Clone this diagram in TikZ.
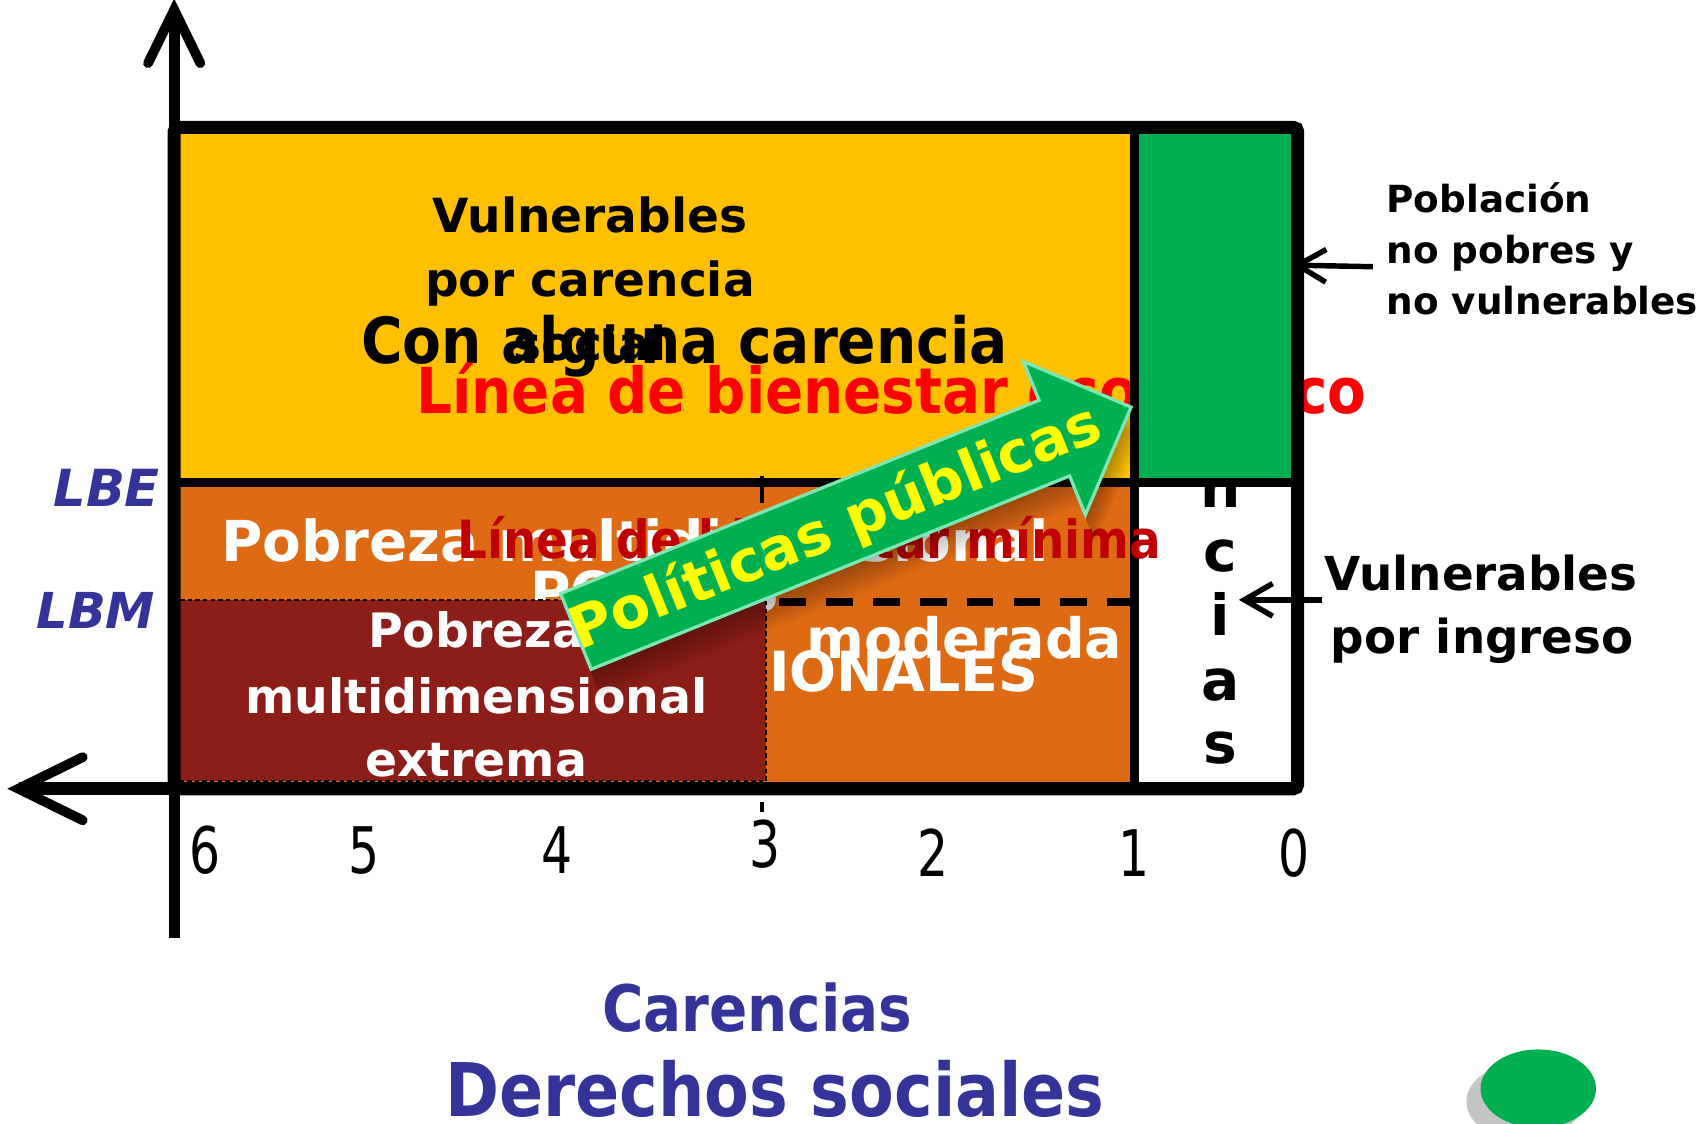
\documentclass[tikz,border=0pt]{standalone}
\usepackage{fontspec}
\setmainfont{DejaVu Sans}
\newfontfamily\verd{DejaVu Sans}
\newfontfamily\tahA[FakeStretch=0.89]{DejaVu Sans}
\newfontfamily\tahB[FakeStretch=0.88]{DejaVu Sans}
\newfontfamily\tahD[FakeStretch=0.76]{DejaVu Sans}
\usetikzlibrary{arrows.meta}
\definecolor{cyellow}{HTML}{FFC000}
\definecolor{cgreen}{HTML}{00B050}
\definecolor{corange}{HTML}{DF6A14}
\definecolor{cdark}{HTML}{8C1D18}
\definecolor{cblue}{HTML}{333399}
\definecolor{cred}{HTML}{FF0000}
\definecolor{cdred}{HTML}{C00000}
\definecolor{cmint}{HTML}{7CE6B4}
\definecolor{cyel}{HTML}{FFFF00}
\newcommand\fsz[1]{\fontsize{#1}{#1}\selectfont}
\begin{document}
\begin{tikzpicture}[x=0.5pt,y=-0.5pt,
  txt/.style={inner sep=0pt, outer sep=0pt, anchor=base},
  vb/.style={font=\verd\bfseries\fsz{#1}},
  ta/.style={font=\tahA\bfseries\fsz{#1}},
  divider/.style={line width=4.25pt},
  conn/.style={line width=2.5pt, -{Straight Barb[length=13pt,width=15pt]}},
  axisbarb/.style={line width=4.5pt, line cap=round, line join=miter},
  arrowpath/.style={insert path={(0,-37.5) -- (474,-37.5) -- (474,-76) -- (550,0) -- (474,76) -- (474,37.5) -- (0,37.5) -- cycle}},
]
\useasboundingbox (0,0) rectangle (1568,1032);
\fill[white] (0,0) rectangle (1568,1032);

% named corners
\coordinate (tl) at (160,117);
\coordinate (tr) at (1192,117);
\coordinate (bl) at (160,724.5);
\coordinate (br) at (1192,724.5);
\coordinate (mtop) at (1042,117);
\coordinate (mbot) at (1042,724.5);
\coordinate (hl) at (160,443);
\coordinate (hr) at (1192,443);

% regions
\fill[cyellow] (tl) rectangle (1042,443);
\fill[corange] (hl) rectangle (mbot);
\fill[white] (1042,443) rectangle (br);

% texts in the yellow region
\node[txt, vb=21.6] (vc1) at (542,213.5) {Vulnerables};
\node[txt, vb=21.6] (vc2) at (542,272.4) {por carencia};
\node[txt, vb=21.6] (vc3) at (542,331.5) {social};
\node[txt, ta=29.2] (cac) at (628.8,333.6) {Con alguna carencia};
\node[txt, ta=29.05, text=cred] (lbe) at (819,379.5) {Línea de bienestar económico};

% vertical word in the white column
\foreach \ch/\yy [count=\k] in {C/231,a/290,r/349,e/408,n/466,c/525,i/584,a/643,s/701}
  \node[txt, vb=26] (cv\k) at (1120.8,\yy) {\ch};

\fill[cgreen] (mtop) rectangle (hr);

% texts in the orange region
\node[txt, vb=25.9, text=white] (pmd) at (583.5,516) {Pobreza multidimensional};
\node[txt, vb=25.4, text=white, anchor=base west] (pob1) at (487,562) {POBRES};
\node[txt, vb=25.4, text=white, anchor=base east] (pob2) at (954,635.5) {MULTIDIMENSIONALES};
\node[txt, vb=25.5, text=white] (mod) at (886,605) {moderada};

% extreme poverty box
\fill[cdark] (163.5,551) rectangle (703.5,717.5);
\draw[black, line width=0.7pt, dash pattern=on 2pt off 1.5pt] (163.5,551) rectangle (703.5,717.5);
\node[txt, vb=21.75, text=white] (pe1) at (437.5,595) {Pobreza};
\node[txt, vb=21.75, text=white] (pe2) at (437.5,655) {multidimensional};
\node[txt, vb=21.75, text=white] (pe3) at (437.5,713) {extrema};

% dashed line and small ticks
\draw[line width=3.85pt, dash pattern=on 12.25pt off 9.25pt] (716,553) -- (1042,553);
\draw[line width=2pt] (700,437) -- (700,462);
\draw[line width=2pt] (700,737) -- (700,746);

% dividers and frame
\draw[divider] (hl) -- (hr);
\draw[divider] (mtop) -- (mbot);
\draw[line width=6pt, rounded corners=2pt] (tl) rectangle (br);

% axes
\coordinate (ytip) at (160,9);
\coordinate (yend) at (160,862);
\coordinate (xtip) at (17,724.5);
\draw[line width=5pt] (ytip) -- (yend);
\draw[axisbarb] (136,58) -- (ytip) -- (184,58);
\draw[line width=6pt] (xtip) -- (bl);
\draw[axisbarb] (76,695.5) -- (xtip) -- (76,753.5);

% red line label above dividers
\node[txt, ta=24.2, text=cdred] (lbmin) at (743.5,513) {Línea de bienestar mínima};

% arrow shadow
\foreach \d in {3,6,...,27} {
  \begin{scope}[shift={(529+0.35*\d,580+\d)}, rotate=22]
    \fill[black, opacity=0.035, arrowpath];
  \end{scope}
}
% arrow
\begin{scope}[shift={(529,580)}, rotate=22]
  \fill[cgreen, arrowpath];
  \draw[cmint, line width=1.5pt, line join=miter, arrowpath];
  \node[transform shape, inner sep=0pt, text=cyel, font=\verd\bfseries\fsz{26.5}] (pp) at (257,2) {Políticas públicas};
\end{scope}

% right labels
\node[txt, vb=17.15, anchor=base west] (np1) at (1273.6,195.5) {Población};
\node[txt, vb=17.15, anchor=base west] (np2) at (1273.6,242.2) {no pobres y};
\node[txt, vb=17.15, anchor=base west] (np3) at (1273.6,289.3) {no vulnerables};
\coordinate (pa1) at (1261,245);
\coordinate (pa2) at (1187,243.5);
\draw[conn] (pa1) -- (pa2);

\node[txt, vb=21.5] (vi1) at (1360.5,542.8) {Vulnerables};
\node[txt, vb=21.5] (vi2) at (1361.6,600) {por ingreso};
\coordinate (va1) at (1214,551);
\coordinate (va2) at (1138,551);
\draw[conn] (va1) -- (va2);

% left labels
\node[txt, text=cblue, font=\verd\bfseries\itshape\fsz{23.5}] (lbeL) at (98,465.6) {LBE};
\node[txt, text=cblue, font=\verd\bfseries\itshape\fsz{22.75}] (lbmL) at (88,577) {LBM};

% axis numbers
\foreach \num/\xx/\yy in {6/188/802, 5/334/802, 4/511.6/802, 3/702.7/797, 2/857/804.7, 1/1042/804.7, 0/1188.6/804.7}
  \node[txt, font=\tahD\fsz{29.5}] (n\num) at (\xx,\yy) {\num};

% bottom labels
\node[txt, text=cblue, font=\tahB\bfseries\fsz{29.45}] (carx) at (695.5,947.6) {Carencias};
\node[txt, text=cblue, font=\tahB\bfseries\fsz{34}] (ders) at (711.8,1025.7) {Derechos sociales};

% green button
\fill[black!45, opacity=0.5] (1400,1012) ellipse [x radius=26.5pt, y radius=18pt];
\fill[cgreen] (1413,1000) ellipse [x radius=26.5pt, y radius=18pt];
\end{tikzpicture}
\end{document}
